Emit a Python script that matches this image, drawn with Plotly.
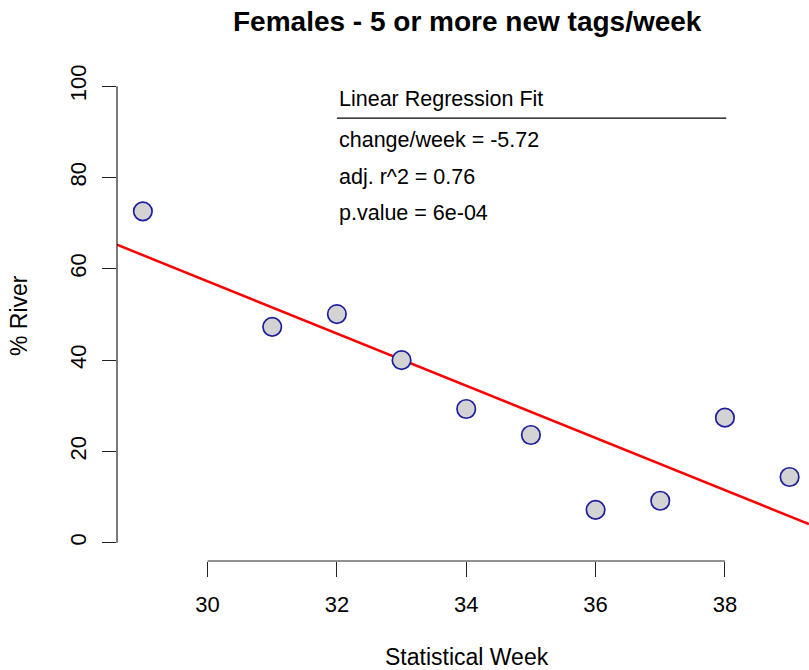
import numpy as np
import plotly.graph_objects as go

# Weekly share of tagged females found in the river
weeks = [29, 31, 32, 33, 34, 35, 36, 37, 38, 39]
pct_river = [72.6, 47.3, 50.1, 40.0, 29.3, 23.6, 7.2, 9.2, 27.4, 14.4]

# Regression summary shown in the legend block
slope = -5.72
adj_r2 = 0.76
p_value = "6e-04"

x_ticks = [30, 32, 34, 36, 38]
y_ticks = [0, 20, 40, 60, 80, 100]

x_range = [28.6, 39.3]
y_range = [-4, 104]

FONT = "Liberation Sans, Arial, Helvetica, sans-serif"

# fitted line through the means with the reported slope
xm = float(np.mean(weeks))
ym = float(np.mean(pct_river))
intercept = ym - slope * xm
fit_x = np.array(x_range)
fit_y = intercept + slope * fit_x

fig = go.Figure()

fig.add_trace(go.Scatter(
    x=fit_x, y=fit_y, mode="lines",
    line=dict(color="#FF0000", width=2.5),
    hoverinfo="skip", showlegend=False,
))

fig.add_trace(go.Scatter(
    x=weeks, y=pct_river, mode="markers",
    marker=dict(size=18.5, color="#D3D3D3",
                line=dict(color="#1E1E9E", width=1.7)),
    showlegend=False,
))

# R-style axis lines spanning only the tick range
fig.add_shape(type="line", xref="x", yref="paper",
              x0=x_ticks[0], x1=x_ticks[-1], y0=0, y1=0,
              line=dict(color="#222222", width=1.2))
fig.add_shape(type="line", xref="paper", yref="y",
              x0=0, x1=0, y0=y_ticks[0], y1=y_ticks[-1],
              line=dict(color="#222222", width=1.2))

# legend-style text block
legend_x = 32.0
legend_lines = [
    (97.2, "Linear Regression Fit"),
    (88.2, f"change/week = {slope:.2f}"),
    (80.1, f"adj. r^2 = {adj_r2:.2f}"),
    (72.2, f"p.value = {p_value}"),
]
for yv, txt in legend_lines:
    fig.add_annotation(x=legend_x, y=yv, xref="x", yref="y", text=txt,
                       showarrow=False, xanchor="left", yanchor="middle",
                       font=dict(family=FONT, size=21.5, color="#000000"))
fig.add_shape(type="line", xref="x", yref="y",
              x0=legend_x, x1=38.02, y0=93.0, y1=93.0,
              line=dict(color="#000000", width=1.2))

# titles
fig.add_annotation(x=467, y=21, xref="paper", yref="paper", text="<b>Females - 5 or more new tags/week</b>",
                   showarrow=False, xanchor="center", yanchor="middle",
                   font=dict(family=FONT, size=28, color="#000000"))
fig.add_annotation(x=467, y=657, xref="paper", yref="paper", text="Statistical Week",
                   showarrow=False, xanchor="center", yanchor="middle",
                   font=dict(family=FONT, size=23, color="#000000"))
fig.add_annotation(x=19, y=315, xref="paper", yref="paper", text="% River", textangle=-90,
                   showarrow=False, xanchor="center", yanchor="middle",
                   font=dict(family=FONT, size=23, color="#000000"))

W, H = 809, 670
L, R, T, B = 117, 0, 68, 109

# convert pixel-placed annotations to paper coordinates
pw, ph = W - L - R, H - T - B
for a in fig.layout.annotations:
    if a.xref == "paper":
        a.x = (a.x - L) / pw
        a.y = 1 - (a.y - T) / ph

fig.update_layout(
    width=W, height=H,
    margin=dict(l=L, r=R, t=T, b=B, pad=0),
    paper_bgcolor="white", plot_bgcolor="white",
    font=dict(family=FONT, size=22, color="#000000"),
    xaxis=dict(range=x_range, tickvals=x_ticks, showgrid=False, zeroline=False,
               showline=False, ticks="outside", ticklen=15, tickwidth=1.2,
               tickcolor="#222222", ticklabelstandoff=9,
               tickfont=dict(family=FONT, size=22)),
    yaxis=dict(range=y_range, tickvals=y_ticks, showgrid=False, zeroline=False,
               showline=False, ticks="outside", ticklen=14, tickwidth=1.2,
               tickcolor="#222222", tickangle=-90, ticklabelstandoff=7,
               tickfont=dict(family=FONT, size=22)),
)

fig.write_html("out.html")
